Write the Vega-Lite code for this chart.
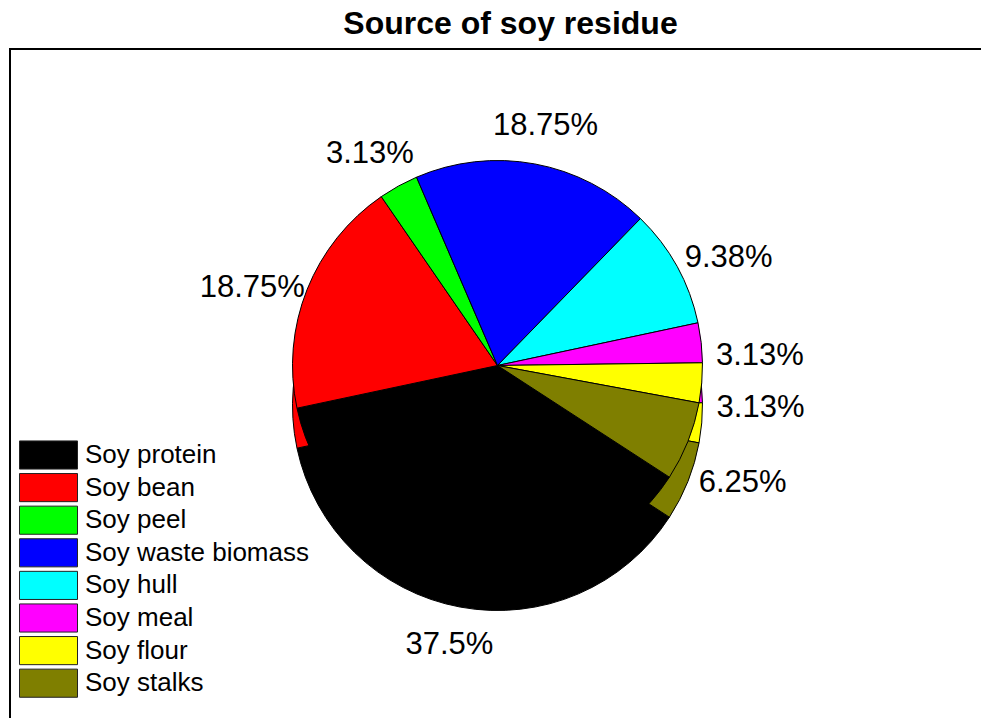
{
  "$schema": "https://vega.github.io/schema/vega-lite/v6.json",
  "width": 981,
  "height": 718,
  "autosize": {"type": "fit", "contains": "padding"},
  "padding": {"left": 10, "top": 8, "right": -4, "bottom": -4},
  "background": "white",
  "view": {"stroke": "black", "strokeWidth": 2, "fill": "white"},
  "title": {
    "text": "Source of soy residue",
    "font": "Liberation Sans",
    "fontSize": 32,
    "fontWeight": "bold",
    "color": "black",
    "anchor": "middle",
    "dx": 13,
    "offset": 8
  },
  "data": {
    "values": [
      {"idx": 1, "source": "Soy protein", "value": 37.5},
      {"idx": 2, "source": "Soy bean", "value": 18.75},
      {"idx": 3, "source": "Soy peel", "value": 3.13},
      {"idx": 4, "source": "Soy waste biomass", "value": 18.75},
      {"idx": 5, "source": "Soy hull", "value": 9.38},
      {"idx": 6, "source": "Soy meal", "value": 3.13},
      {"idx": 7, "source": "Soy flour", "value": 3.13},
      {"idx": 8, "source": "Soy stalks", "value": 6.25}
    ]
  },
  "transform": [{"calculate": "datum.value + '%'", "as": "label"}],
  "encoding": {
    "theta": {
      "field": "value",
      "type": "quantitative",
      "stack": true,
      "scale": {"range": [2.147, 8.430]}
    },
    "order": {"field": "idx", "type": "quantitative"},
    "color": {
      "field": "source",
      "type": "nominal",
      "scale": {
        "domain": ["Soy protein", "Soy bean", "Soy peel", "Soy waste biomass", "Soy hull", "Soy meal", "Soy flour", "Soy stalks"],
        "range": ["#000000", "#ff0000", "#00ff00", "#0000ff", "#00ffff", "#ff00ff", "#ffff00", "#7f7f00"]
      },
      "legend": {
        "title": null,
        "orient": "none",
        "legendX": 9,
        "legendY": 391,
        "padding": 0,
        "symbolType": "M-1,-0.97H3V0.97H-1Z",
        "symbolSize": 841,
        "symbolStrokeColor": "#222222",
        "symbolStrokeWidth": 1,
        "symbolOpacity": 1,
        "rowPadding": -1.4,
        "labelFont": "Liberation Sans",
        "labelFontSize": 26,
        "labelColor": "black",
        "labelOffset": 36,
        "labelLimit": 400
      }
    }
  },
  "layer": [
    {
      "mark": {"type": "arc", "outerRadius": 205, "yOffset": 20, "stroke": "black", "strokeWidth": 1}
    },
    {
      "mark": {"type": "arc", "outerRadius": 205, "yOffset": -20, "stroke": "black", "strokeWidth": 1}
    },
    {
      "mark": {"type": "text", "radius": 264, "font": "Liberation Sans", "fontSize": 31, "color": "black"},
      "encoding": {
        "text": {"field": "label", "type": "nominal"},
        "color": {"value": "black"}
      }
    }
  ]
}
